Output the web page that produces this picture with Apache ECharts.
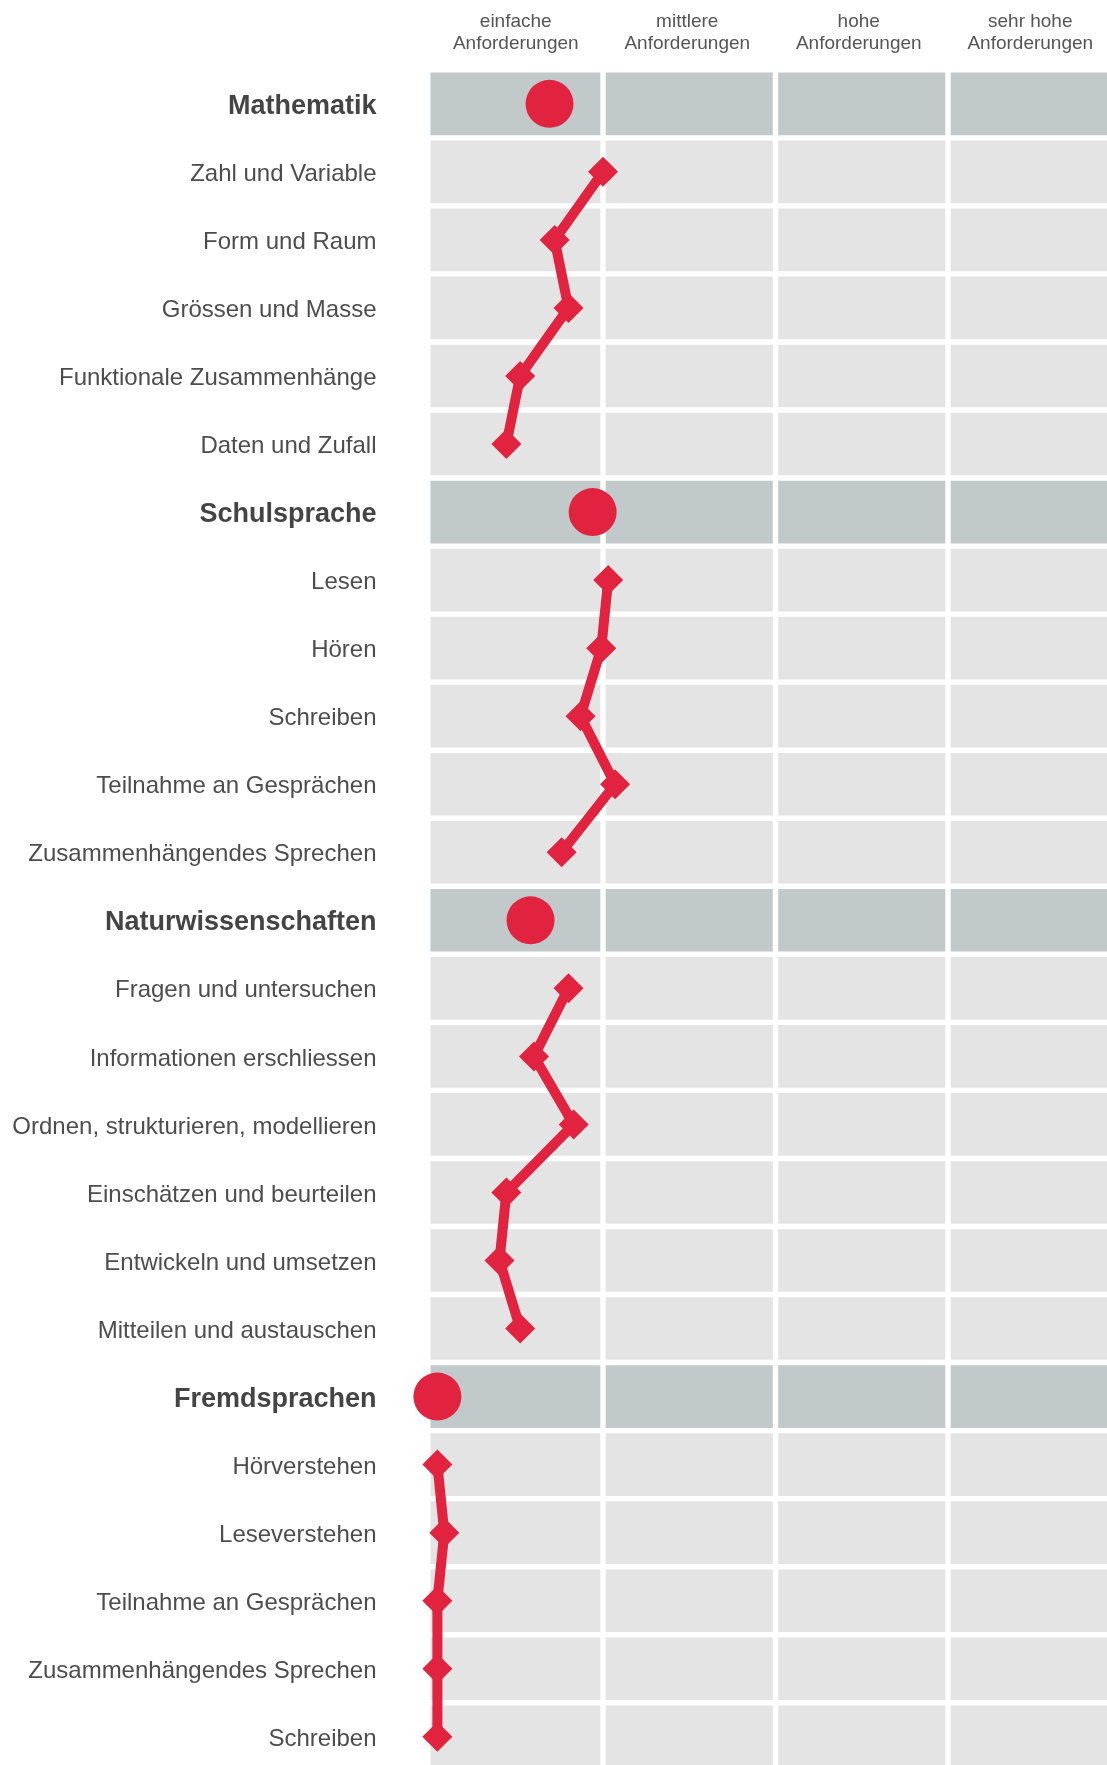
<!DOCTYPE html>
<html>
<head>
<meta charset="utf-8">
<script src="https://cdn.jsdelivr.net/npm/echarts@6/dist/echarts.min.js"></script>
<style>
  html, body { margin: 0; padding: 0; background: #fff; overflow: hidden; }
  #chart { width: 1130px; height: 1780px; }
</style>
</head>
<body>
<div id="chart"></div>
<script>
// Spalten (Anforderungsniveau)
var levels = ['einfache\nAnforderungen', 'mittlere\nAnforderungen', 'hohe\nAnforderungen', 'sehr hohe\nAnforderungen']
// Fächer (Kopfzeilen) und ihr Gesamtwert
var subjects = ['Mathematik', 'Schulsprache', 'Naturwissenschaften', 'Fremdsprachen']
var subjectValues = [0.69, 0.94, 0.58, 0.04]
// Kompetenzbereiche je Fach
var mathTopics = ['Zahl und Variable', 'Form und Raum', 'Grössen und Masse', 'Funktionale Zusammenhänge', 'Daten und Zufall']
var mathValues = [1.00, 0.72, 0.80, 0.52, 0.44]
var langTopics = ['Lesen', 'Hören', 'Schreiben', 'Teilnahme an Gesprächen', 'Zusammenhängendes Sprechen']
var langValues = [1.03, 0.99, 0.87, 1.07, 0.76]
var sciTopics = ['Fragen und untersuchen', 'Informationen erschliessen', 'Ordnen, strukturieren, modellieren', 'Einschätzen und beurteilen', 'Entwickeln und umsetzen', 'Mitteilen und austauschen']
var sciValues = [0.80, 0.60, 0.83, 0.44, 0.40, 0.52]
var foreignTopics = ['Hörverstehen', 'Leseverstehen', 'Teilnahme an Gesprächen', 'Zusammenhängendes Sprechen', 'Schreiben']
var foreignValues = [0.04, 0.08, 0.04, 0.04, 0.04]

var topicLists = [mathTopics, langTopics, sciTopics, foreignTopics]
var valueLists = [mathValues, langValues, sciValues, foreignValues]

// Zeilen aufbauen
var rows = []
var isHeader = []
var lineData = []
var dotData = []
subjects.forEach(function (name, i) {
  dotData.push([subjectValues[i], rows.length])
  rows.push(name)
  isHeader.push(1)
  lineData.push('-')
  topicLists[i].forEach(function (t, j) {
    rows.push(t)
    isHeader.push(0)
    lineData.push(valueLists[i][j])
  })
})

// Hintergrundzellen
var cells = []
for (let r = 0; r < rows.length; r++) {
  for (let c = 0; c < levels.length; c++) {
    cells.push([c, r, isHeader[r]])
  }
}

var red = '#e2233f'
var font = '"Liberation Sans", Arial, sans-serif'
var gap = 5.4

var myChart = echarts.init(document.getElementById('chart'))
var option = {
  animation: false,
  grid: [
    { left: 430.5, top: 69.8, width: 690, height: 1701, outerBoundsMode: 'none' },
    // nur für die Spaltenköpfe
    { left: 430, top: 69.8, width: 686, height: 10, outerBoundsMode: 'none' }
  ],
  xAxis: [
    { type: 'value', min: 0, max: 4, show: false },
    {
      type: 'category',
      gridIndex: 1,
      data: levels,
      position: 'top',
      boundaryGap: true,
      axisLine: { show: false },
      axisTick: { show: false },
      axisLabel: { fontSize: 19, lineHeight: 22, color: '#555', fontFamily: font, margin: 15, interval: 0 }
    }
  ],
  yAxis: [
    {
      type: 'category',
      data: rows,
      inverse: true,
      axisLine: { show: false },
      axisTick: { show: false },
      splitLine: { show: false },
      axisLabel: {
        interval: 0,
        margin: 54,
        fontSize: 24,
        color: '#4d4d4d',
        fontFamily: font,
        padding: [5, 0, 0, 0],
        formatter: function (v, idx) {
          return isHeader[idx] ? '{b|' + v + '}' : v
        },
        rich: {
          b: { fontSize: 27, fontWeight: 'bold', color: '#444', fontFamily: font }
        }
      }
    },
    { type: 'value', gridIndex: 1, show: false }
  ],
  series: [
    {
      type: 'custom',
      xAxisIndex: 0,
      yAxisIndex: 0,
      data: cells,
      encode: { x: 0, y: 1 },
      z: 1,
      renderItem: function (params, api) {
        var c = api.value(0)
        var start = api.coord([c, api.value(1)])
        var size = api.size([1, 1])
        var x0 = c === 0 ? start[0] : start[0] + gap / 2
        var x1 = start[0] + size[0] - gap / 2
        return {
          type: 'rect',
          shape: { x: x0, y: start[1] - size[1] / 2 + gap / 2, width: x1 - x0, height: size[1] - gap },
          style: { fill: api.value(2) ? '#c1c9ca' : '#e4e4e4' }
        }
      }
    },
    {
      type: 'line',
      xAxisIndex: 0,
      yAxisIndex: 0,
      data: lineData,
      z: 3,
      clip: false,
      connectNulls: false,
      symbol: 'diamond',
      symbolSize: 30,
      lineStyle: { color: red, width: 10 },
      itemStyle: { color: red }
    },
    {
      type: 'scatter',
      xAxisIndex: 0,
      yAxisIndex: 0,
      data: dotData,
      z: 4,
      clip: false,
      symbol: 'circle',
      symbolSize: 48,
      itemStyle: { color: red, opacity: 1 }
    }
  ]
}
myChart.setOption(option)
</script>
</body>
</html>
